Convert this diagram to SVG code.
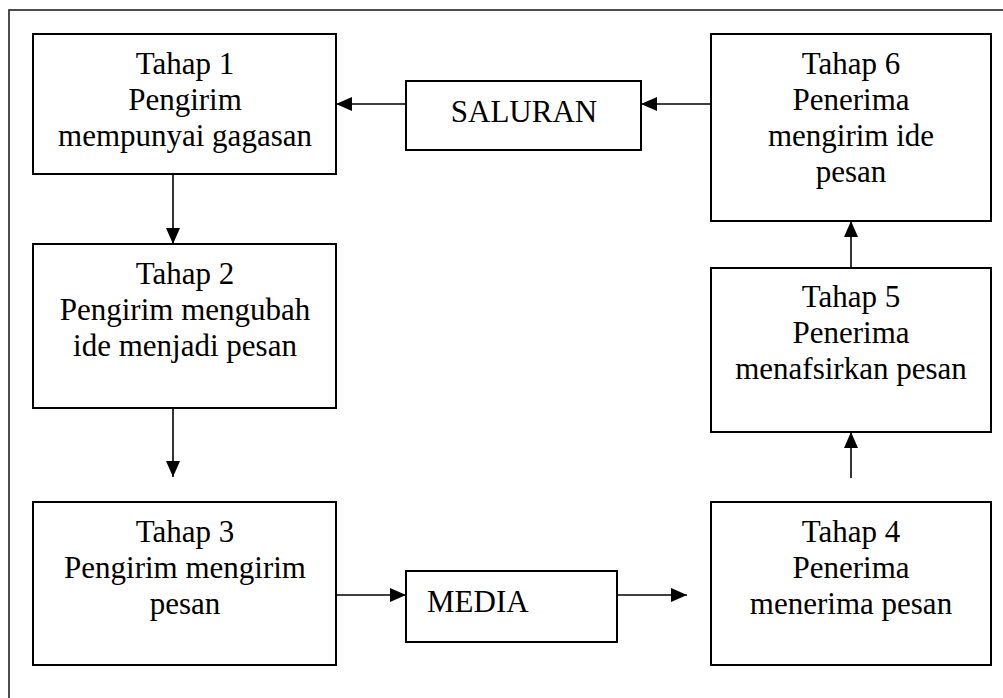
<svg xmlns="http://www.w3.org/2000/svg" width="1003" height="698" viewBox="0 0 1003 698">
<style>
.box{fill:#fff;stroke:#000;stroke-width:2}
.frame{fill:none;stroke:#222;stroke-width:1.6}
.t{font-family:"Liberation Serif","Times New Roman",serif;font-size:31px;fill:#000;text-anchor:middle}
.tl{font-family:"Liberation Serif","Times New Roman",serif;font-size:31px;fill:#000}
.c{stroke:#000;stroke-width:1.6;fill:none;marker-end:url(#ah)}
</style>
<defs>
<marker id="ah" markerUnits="userSpaceOnUse" markerWidth="16" markerHeight="14" refX="16" refY="7" orient="auto">
<path d="M0,0 L16,7 L0,14 Z" fill="#000"/>
</marker>
</defs>
<rect width="1003" height="698" fill="#fff"/>
<rect class="frame" x="9" y="10" width="1010" height="710"/>
<g id="connectors">
<line class="c" x1="173" y1="174" x2="173" y2="244"/>
<line class="c" x1="173" y1="408" x2="173" y2="477"/>
<line class="c" x1="336" y1="595" x2="406" y2="595"/>
<line class="c" x1="617" y1="595" x2="687" y2="595"/>
<line class="c" x1="851" y1="478" x2="851" y2="432"/>
<line class="c" x1="851" y1="268" x2="851" y2="221"/>
<line class="c" x1="711" y1="104" x2="641" y2="104"/>
<line class="c" x1="406" y1="104" x2="336" y2="104"/>
</g>
<g id="tahap1">
<rect class="box" x="33" y="34" width="303" height="140"/>
<text class="t" x="185" y="74">Tahap 1</text>
<text class="t" x="185" y="110">Pengirim</text>
<text class="t" x="185" y="146">mempunyai gagasan</text>
</g>
<g id="tahap2">
<rect class="box" x="33" y="244" width="303" height="164"/>
<text class="t" x="185" y="284">Tahap 2</text>
<text class="t" x="185" y="320">Pengirim mengubah</text>
<text class="t" x="185" y="356">ide menjadi pesan</text>
</g>
<g id="tahap3">
<rect class="box" x="33" y="502" width="303" height="163"/>
<text class="t" x="185" y="542">Tahap 3</text>
<text class="t" x="185" y="578">Pengirim mengirim</text>
<text class="t" x="185" y="614">pesan</text>
</g>
<g id="media">
<rect class="box" x="406" y="571" width="211" height="71"/>
<text class="tl" x="427" y="612">MEDIA</text>
</g>
<g id="tahap4">
<rect class="box" x="711" y="502" width="280" height="163"/>
<text class="t" x="851" y="542">Tahap 4</text>
<text class="t" x="851" y="578">Penerima</text>
<text class="t" x="851" y="614">menerima pesan</text>
</g>
<g id="tahap5">
<rect class="box" x="711" y="268" width="280" height="164"/>
<text class="t" x="851" y="307">Tahap 5</text>
<text class="t" x="851" y="343">Penerima</text>
<text class="t" x="851" y="379">menafsirkan pesan</text>
</g>
<g id="tahap6">
<rect class="box" x="711" y="34" width="280" height="187"/>
<text class="t" x="851" y="74">Tahap 6</text>
<text class="t" x="851" y="110">Penerima</text>
<text class="t" x="851" y="146">mengirim ide</text>
<text class="t" x="851" y="182">pesan</text>
</g>
<g id="saluran">
<rect class="box" x="406" y="81" width="235" height="69"/>
<text class="t" x="524" y="122">SALURAN</text>
</g>
</svg>
